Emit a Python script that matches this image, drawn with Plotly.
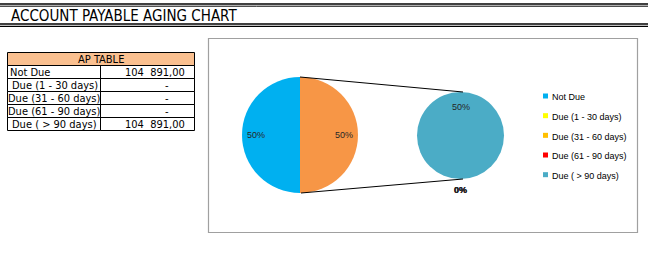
import math
import plotly.graph_objects as go

# ---------------- data ----------------
chart_title = "ACCOUNT PAYABLE AGING CHART"
table_title = "AP TABLE"
categories = ["Not Due", "Due (1 - 30 days)", "Due (31 - 60 days)",
              "Due (61 - 90 days)", "Due ( > 90 days)"]
amounts = [104891.00, 0.0, 0.0, 0.0, 104891.00]
category_colors = ["#00B0F0", "#FFFF00", "#FFC000", "#FF0000", "#4BACC6"]
other_label = "Other"
other_color = "#F79646"
header_fill = "#FAC090"

# ---------------- helpers ----------------
W, H = 648, 255


def X(px):
    return px / W


def Y(py):
    return 1 - py / H


def fmt_amount(v):
    if v == 0:
        return "-"
    s = f"{v:,.2f}"
    return s.replace(",", "\u00a0\u00a0").replace(".", ",")


total = sum(amounts)
primary_labels = categories[:1] + [other_label]
primary_values = [amounts[0], sum(amounts[1:])]
primary_colors = [category_colors[0], other_color]
secondary_labels = categories[1:]
secondary_values = amounts[1:]
secondary_colors = category_colors[1:]

# pie geometry in pixels
P1 = dict(cx=300, cy=135, r=58)
P2 = dict(cx=460.5, cy=135.5, r=43.5)


def domain(p):
    return dict(x=[X(p["cx"] - p["r"]), X(p["cx"] + p["r"])],
                y=[Y(p["cy"] + p["r"]), Y(p["cy"] - p["r"])])


def pt(p, ang_deg, rad):
    a = math.radians(ang_deg)
    return p["cx"] + rad * math.sin(a), p["cy"] - rad * math.cos(a)


fig = go.Figure()
fig.add_trace(go.Pie(
    labels=primary_labels, values=primary_values,
    marker=dict(colors=primary_colors, line=dict(width=0)),
    sort=False, direction="clockwise", rotation=180,
    textinfo="none", showlegend=False, domain=domain(P1)))
fig.add_trace(go.Pie(
    labels=secondary_labels, values=secondary_values,
    marker=dict(colors=secondary_colors, line=dict(width=0)),
    sort=False, direction="clockwise", rotation=180,
    textinfo="none", showlegend=False, domain=domain(P2)))

shapes = []
ann = []

TITLE_FONT = "DejaVu Sans Condensed, DejaVu Sans, sans-serif"
CHART_FONT = "Liberation Sans, Arial, sans-serif"

# ---------------- title band ----------------
for y, w in [(4, 1.6), (6.2, 1.0), (24, 1.3), (26.3, 1.3)]:
    shapes.append(dict(type="line", xref="paper", yref="paper",
                       x0=0, x1=X(W), y0=Y(y), y1=Y(y),
                       line=dict(color="black", width=w)))
ann.append(dict(x=X(10), y=Y(15.5), xref="paper", yref="paper",
                text=chart_title, showarrow=False, xanchor="left",
                yanchor="middle", borderpad=0,
                font=dict(family=TITLE_FONT, size=15, color="black")))

# ---------------- AP table ----------------
t_left, t_split, t_right = 7.5, 100.5, 194.5
t_top, row_h = 52.5, 13
shapes.append(dict(type="rect", xref="paper", yref="paper",
                   x0=X(t_left), x1=X(t_right), y0=Y(t_top), y1=Y(t_top + row_h),
                   fillcolor=header_fill, line=dict(color="black", width=1),
                   layer="below"))
ann.append(dict(x=X((t_left + t_right) / 2), y=Y(t_top + row_h / 2 + 0.3),
                xref="paper", yref="paper", text=table_title, showarrow=False,
                xanchor="center", yanchor="middle", borderpad=0,
                font=dict(family=TITLE_FONT, size=11, color="black")))
for i, (cat, val) in enumerate(zip(categories, amounts)):
    y0 = t_top + row_h * (i + 1)
    yc = y0 + row_h / 2 + 0.3
    for xa, xb in [(t_left, t_split), (t_split, t_right)]:
        shapes.append(dict(type="rect", xref="paper", yref="paper",
                           x0=X(xa), x1=X(xb), y0=Y(y0), y1=Y(y0 + row_h),
                           line=dict(color="black", width=1)))
    if i == 0:
        ann.append(dict(x=X(9), y=Y(yc), xref="paper", yref="paper",
                        text=cat, showarrow=False, xanchor="left",
                        yanchor="middle", borderpad=0,
                        font=dict(family=TITLE_FONT, size=11, color="black")))
    else:
        ann.append(dict(x=X((t_left + t_split) / 2 + 0.5), y=Y(yc),
                        xref="paper", yref="paper", text=cat, showarrow=False,
                        xanchor="center", yanchor="middle", borderpad=0,
                        font=dict(family=TITLE_FONT, size=11, color="black")))
    if val == 0:
        ann.append(dict(x=X(167), y=Y(yc), xref="paper", yref="paper",
                        text=fmt_amount(val), showarrow=False,
                        xanchor="center", yanchor="middle", borderpad=0,
                        font=dict(family=TITLE_FONT, size=11, color="black")))
    else:
        ann.append(dict(x=X(186), y=Y(yc), xref="paper", yref="paper",
                        text=fmt_amount(val), showarrow=False,
                        xanchor="right", yanchor="middle", borderpad=0,
                        font=dict(family=TITLE_FONT, size=11, color="black")))

# ---------------- chart frame ----------------
shapes.append(dict(type="rect", xref="paper", yref="paper",
                   x0=X(208.5), x1=X(637.5), y0=Y(38.5), y1=Y(232.5),
                   line=dict(color="#A0A0A0", width=1.2)))

# connector lines (pie of pie)
for sgn in (-1, 1):
    shapes.append(dict(type="line", xref="paper", yref="paper",
                       x0=X(P1["cx"] + (1 if sgn > 0 else 0)),
                       y0=Y(P1["cy"] + sgn * P1["r"]),
                       x1=X(P2["cx"] + 2.5), y1=Y(P2["cy"] + sgn * P2["r"]),
                       line=dict(color="black", width=1)))

# data labels (Not Due on the left half, "Other" on the right half)
label_font = dict(family=CHART_FONT, size=9, color="#262626")
cum = 0.0
psum = sum(primary_values)
for v in primary_values:
    frac = v / psum
    mid = 180 + (cum + frac / 2) * 360
    cum += frac
    x, y = pt(P1, mid, 0.76 * P1["r"])
    ann.append(dict(x=X(x), y=Y(y), xref="paper", yref="paper",
                    text=f"{v / total * 100:.0f}%", showarrow=False,
                    xanchor="center", yanchor="middle", borderpad=0,
                    font=label_font))
cum = 0.0
ssum = sum(secondary_values)
for v in secondary_values:
    frac = v / ssum
    mid = 180 + (cum + frac / 2) * 360
    cum += frac
    rad = 0.655 * P2["r"] if v > 0 else P2["r"] + 11
    x, y = pt(P2, mid, rad)
    txt = f"{v / total * 100:.0f}%"
    if v == 0:
        txt = f"<b>{txt}</b>"
    ann.append(dict(x=X(x), y=Y(y), xref="paper", yref="paper",
                    text=txt, showarrow=False,
                    xanchor="center", yanchor="middle", borderpad=0,
                    font=label_font))

# legend
leg_x, leg_y0, leg_dy = 543, 97.3, 19.67
for i, (cat, col) in enumerate(zip(categories, category_colors)):
    yc = leg_y0 + i * leg_dy
    shapes.append(dict(type="rect", xref="paper", yref="paper",
                       x0=X(leg_x), x1=X(leg_x + 5), y0=Y(yc - 3.8), y1=Y(yc + 1.2),
                       fillcolor=col, line=dict(width=0)))
    ann.append(dict(x=X(leg_x + 7.5), y=Y(yc), xref="paper", yref="paper",
                    text=cat, showarrow=False, xanchor="left",
                    yanchor="middle", borderpad=0,
                    font=dict(family=CHART_FONT, size=9, color="black")))

fig.update_layout(width=W, height=H, margin=dict(l=0, r=0, t=0, b=0),
                  paper_bgcolor="white", plot_bgcolor="white",
                  showlegend=False, shapes=shapes, annotations=ann)

fig.write_html("out.html", config={"displayModeBar": False})
